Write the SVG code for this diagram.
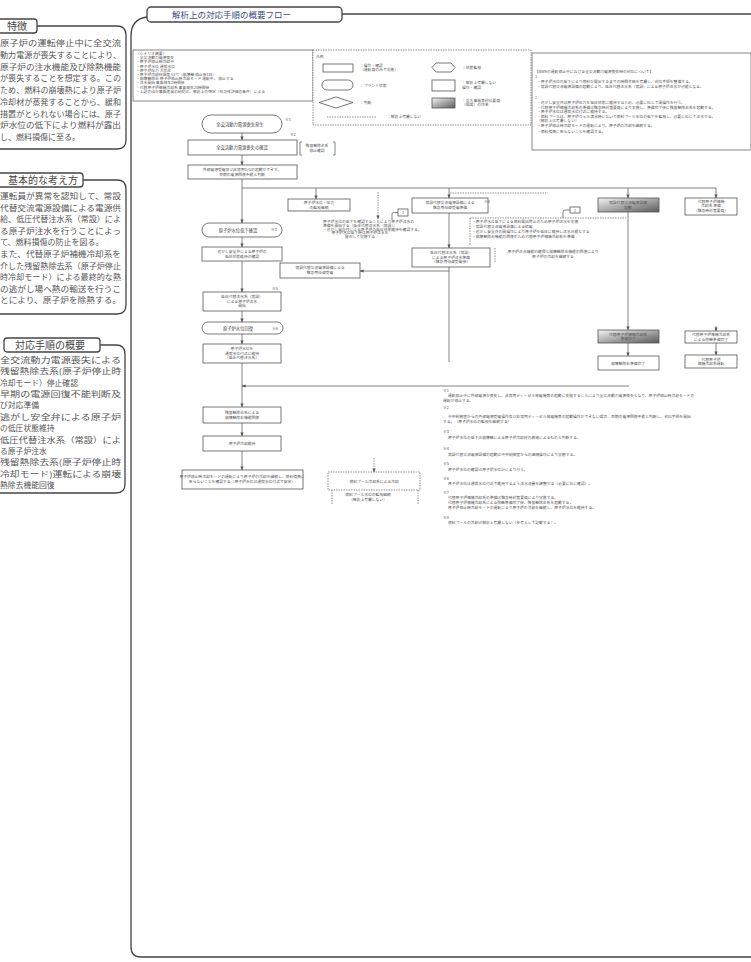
<svg xmlns="http://www.w3.org/2000/svg" width="751" height="962" viewBox="0 0 751 962">
<defs>
<style>
.f{font-family:"Noto Sans CJK JP","Noto Sans",sans-serif}
.bt{font-size:8px;fill:#555}
.bt2{font-size:7.8px;fill:#555}
.tt{font-size:10px;fill:#444}
.s{font-size:4.3px;fill:#444}
.xs{font-size:3.8px;fill:#555}
.c{text-anchor:middle}
.box{fill:#fff;stroke:#555;stroke-width:0.8}
.gbox{fill:url(#g);stroke:#555;stroke-width:0.8}
.dbox{fill:#fff;stroke:#666;stroke-width:0.7;stroke-dasharray:1.5 1}
.frame{fill:none;stroke:#444;stroke-width:1.3}
.tab{fill:#fff;stroke:#444;stroke-width:1.3}
.ln{fill:none;stroke:#666;stroke-width:0.8}
.dl{fill:none;stroke:#666;stroke-width:0.7;stroke-dasharray:1.5 1}
</style>
<linearGradient id="g" x1="0" y1="0" x2="1" y2="1">
<stop offset="0" stop-color="#f4f4f4"/><stop offset="1" stop-color="#5a5a5a"/>
</linearGradient>
<marker id="a" markerWidth="4" markerHeight="4" refX="3.6" refY="2" orient="auto" markerUnits="userSpaceOnUse"><path d="M0,0.4 L4,2 L0,3.6 z" fill="#555"/></marker>
</defs>
<rect width="751" height="962" fill="#fff"/>

<!-- Left column: 特徴 -->
<g id="panel-feature" class="f">
<path class="frame" d="M37,26 L117,26 Q126,26 126,35 L126,140 Q126,149 117,149 L-5,149"/>
<rect class="tab" x="-6" y="19" width="43" height="14" rx="3"/>
<text class="tt c" x="17" y="29.5">特徴</text>
<text class="bt" x="0" y="46" textLength="121" lengthAdjust="spacingAndGlyphs">原子炉の運転停止中に全交流</text>
<text class="bt" x="0" y="57.8" textLength="121" lengthAdjust="spacingAndGlyphs">動力電源が喪失することにより、</text>
<text class="bt" x="0" y="69.5" textLength="121" lengthAdjust="spacingAndGlyphs">原子炉の注水機能及び除熱機能</text>
<text class="bt" x="0" y="81.3" textLength="121" lengthAdjust="spacingAndGlyphs">が喪失することを想定する。この</text>
<text class="bt" x="0" y="93" textLength="121" lengthAdjust="spacingAndGlyphs">ため、燃料の崩壊熱により原子炉</text>
<text class="bt" x="0" y="104.8" textLength="121" lengthAdjust="spacingAndGlyphs">冷却材が蒸発することから、緩和</text>
<text class="bt" x="0" y="116.5" textLength="121" lengthAdjust="spacingAndGlyphs">措置がとられない場合には、原子</text>
<text class="bt" x="0" y="128.3" textLength="121" lengthAdjust="spacingAndGlyphs">炉水位の低下により燃料が露出</text>
<text class="bt" x="0" y="140">し、燃料損傷に至る。</text>
</g>

<!-- Left column: 基本的な考え方 -->
<g id="panel-concept" class="f">
<path class="frame" d="M83,180 L117,180 Q126,180 126,189 L126,305 Q126,314 117,314 L-5,314"/>
<rect class="tab" x="-6" y="173" width="89" height="14" rx="3"/>
<text class="tt c" x="43" y="183.5">基本的な考え方</text>
<text class="bt" x="0" y="199" textLength="121" lengthAdjust="spacingAndGlyphs">運転員が異常を認知して、常設</text>
<text class="bt" x="0" y="210.6" textLength="121" lengthAdjust="spacingAndGlyphs">代替交流電源設備による電源供</text>
<text class="bt" x="0" y="222.2" textLength="121" lengthAdjust="spacingAndGlyphs">給、低圧代替注水系（常設）によ</text>
<text class="bt" x="0" y="233.8" textLength="121" lengthAdjust="spacingAndGlyphs">る原子炉注水を行うことによっ</text>
<text class="bt" x="0" y="245.4">て、燃料損傷の防止を図る。</text>
<text class="bt" x="0" y="257" textLength="121" lengthAdjust="spacingAndGlyphs">また、代替原子炉補機冷却系を</text>
<text class="bt" x="0" y="268.6" textLength="121" lengthAdjust="spacingAndGlyphs">介した残留熱除去系（原子炉停止</text>
<text class="bt" x="0" y="280.2" textLength="121" lengthAdjust="spacingAndGlyphs">時冷却モード）による最終的な熱</text>
<text class="bt" x="0" y="291.8" textLength="121" lengthAdjust="spacingAndGlyphs">の逃がし場へ熱の輸送を行うこ</text>
<text class="bt" x="0" y="303.4" textLength="121" lengthAdjust="spacingAndGlyphs">とにより、原子炉を除熱する。</text>
</g>

<!-- Left column: 対応手順の概要 -->
<g id="panel-procedure" class="f">
<path class="frame" d="M100,345 L116,345 Q125,345 125,354 L125,484 Q125,493 116,493 L-5,493"/>
<rect class="tab" x="4" y="338" width="96" height="14" rx="3"/>
<text class="tt c" x="50" y="348.5">対応手順の概要</text>
<text class="bt2" x="0" y="363" textLength="121" lengthAdjust="spacingAndGlyphs">全交流動力電源喪失による</text>
<text class="bt2" x="0" y="374.4" textLength="121" lengthAdjust="spacingAndGlyphs">残留熱除去系(原子炉停止時</text>
<text class="bt2" x="0" y="385.7">冷却モード）停止確認</text>
<text class="bt2" x="0" y="397.1" textLength="121" lengthAdjust="spacingAndGlyphs">早期の電源回復不能判断及</text>
<text class="bt2" x="0" y="408.4">び対応準備</text>
<text class="bt2" x="0" y="419.8" textLength="121" lengthAdjust="spacingAndGlyphs">逃がし安全弁による原子炉</text>
<text class="bt2" x="0" y="431.2">の低圧状態維持</text>
<text class="bt2" x="0" y="442.5" textLength="121" lengthAdjust="spacingAndGlyphs">低圧代替注水系（常設）によ</text>
<text class="bt2" x="0" y="453.9">る原子炉注水</text>
<text class="bt2" x="0" y="465.3" textLength="121" lengthAdjust="spacingAndGlyphs">残留熱除去系(原子炉停止時</text>
<text class="bt2" x="0" y="476.6" textLength="121" lengthAdjust="spacingAndGlyphs">冷却モード)運転による崩壊</text>
<text class="bt2" x="0" y="488">熱除去機能回復</text>
</g>

<!-- Main frame -->
<g id="main-frame" class="f">
<path class="frame" d="M342,14 L751,14"/>
<path class="frame" d="M147,17 Q131,19 131,36 L131,947 Q131,957 141,957 L751,957"/>
<rect class="tab" x="147" y="7" width="195" height="15" rx="4"/>
<text x="172" y="18" style="font-size:8.5px;fill:#3a4a80">解析上の対応手順の概要フロー</text>
</g>

<!-- Top-left conditions box -->
<g id="conditions" class="f">
<rect x="133" y="50" width="180" height="51" fill="#fff" stroke="#666" stroke-width="0.8"/>
<text class="xs" x="136" y="55">〈シナリオ概要〉</text>
<text class="xs" x="136" y="59.2">・全交流動力電源喪失</text>
<text class="xs" x="136" y="63.4">・原子炉停止時冷却中</text>
<text class="xs" x="136" y="67.6">・原子炉水位 通常水位</text>
<text class="xs" x="136" y="71.8">・原子炉圧力 大気圧</text>
<text class="xs" x="136" y="76">・原子炉冷却材温度 52℃（崩壊熱 停止後1日）</text>
<text class="xs" x="136" y="80.2">・崩壊熱除去 原子炉停止時冷却モード 運転中、 停止する</text>
<text class="xs" x="136" y="84.4">・注水開始 事象発生2時間後</text>
<text class="xs" x="136" y="88.6">・代替原子炉補機冷却系 事象発生20時間後</text>
<text class="xs" x="136" y="92.8">・上記のほか事象進展の前提は、解析上の想定（有効性評価の条件）による</text>
</g>

<!-- Legend -->
<g id="legend" class="f">
<rect class="dbox" x="313" y="50" width="218" height="75"/>
<text class="xs" x="316" y="58">凡例</text>
<rect class="box" x="323" y="64" width="30" height="8"/>
<text class="xs" x="360" y="66.5">：操作・確認</text>
<text class="xs" x="360" y="71">（運転員のみで実施）</text>
<rect class="box" x="322" y="80" width="31" height="10" rx="5"/>
<text class="xs" x="360" y="86.5">：プラント状態</text>
<path class="box" d="M319,102.5 L336,97 L353,102.5 L336,108 z"/>
<text class="xs" x="360" y="104">：判断</text>
<path class="box" d="M432,67.5 L436,63 L451,63 L455,67.5 L451,72 L436,72 z"/>
<text class="xs" x="462" y="69">：状態監視</text>
<rect class="box" x="432" y="80" width="23" height="11"/>
<text class="xs" x="462" y="84">：解析上考慮しない</text>
<text class="xs" x="462" y="88.5">操作・確認</text>
<rect class="gbox" x="432" y="98" width="23" height="10"/>
<text class="xs" x="462" y="101.5">：重大事故等対応要員</text>
<text class="xs" x="462" y="106">（現場）の作業</text>
<path class="dl" d="M327,117 L377,117"/>
<text class="xs" x="387" y="118.3">：解析上考慮しない</text>
</g>

<!-- Top-right remarks box -->
<g id="remarks" class="f">
<rect x="532" y="53" width="219" height="97" fill="#fff" stroke="#888" stroke-width="1"/>
<text class="xs" x="535" y="73.3">【BWRの運転停止中における全交流動力電源喪失時の対応について】</text>
<text class="xs" x="535" y="78.3">1</text>
<text class="xs" x="537" y="83.3">・原子炉水位の低下により燃料が露出するまでの時間余裕を考慮し、対応手順を整備する。</text>
<text class="xs" x="537" y="88.3">・常設代替交流電源設備の起動により、低圧代替注水系（常設）による原子炉注水が可能となる。</text>
<text class="xs" x="535" y="99.3">2</text>
<text class="xs" x="537" y="104.3">・逃がし安全弁は原子炉圧力を低圧状態に維持するため、必要に応じて開操作を行う。</text>
<text class="xs" x="537" y="108.8">・代替原子炉補機冷却系の準備は緊急時対策要員により実施し、準備完了後に残留熱除去系を起動する。</text>
<text class="xs" x="537" y="113.3">・原子炉水位は通常水位付近に維持する。</text>
<text class="xs" x="537" y="117.8">・燃料プールは、原子炉ウェル満水時において燃料プール水位の低下を監視し、必要に応じて注水する。</text>
<text class="xs" x="537" y="122.3">（解析上は考慮しない）</text>
<text class="xs" x="537" y="126.8">・原子炉停止時冷却モードの運転により、原子炉の冷却を継続する。</text>
<text class="xs" x="537" y="133.3">・燃料損傷に至らないことを確認する。</text>
</g>

<!-- Connectors -->
<g id="connectors" fill="none">
<path class="ln" d="M242,133 L242,140" marker-end="url(#a)"/>
<path class="ln" d="M242,155 L242,165" marker-end="url(#a)"/>
<path class="ln" d="M242,179 L242,223" marker-end="url(#a)"/>
<path class="ln" d="M242,188 L716,188"/>
<path class="ln" d="M316,188 L316,199" marker-end="url(#a)"/>
<path class="ln" d="M449,188 L449,198" marker-end="url(#a)"/>
<path class="ln" d="M628,188 L628,198" marker-end="url(#a)"/>
<path class="ln" d="M716,188 L716,198" marker-end="url(#a)"/>
<path class="dl" d="M378,192 L378,219" marker-end="url(#a)"/>
<path class="dl" d="M450,193 L548,193"/>
<path class="ln" d="M242,237 L242,247" marker-end="url(#a)"/>
<path class="ln" d="M242,261 L242,292" marker-end="url(#a)"/>
<path class="ln" d="M449,213 L449,248" marker-end="url(#a)"/>
<path class="ln" d="M449,267 L449,362"/>
<path class="ln" d="M449,271 L360,271" marker-end="url(#a)"/>
<path class="ln" d="M242,311 L242,322" marker-end="url(#a)"/>
<path class="ln" d="M242,334 L242,344" marker-end="url(#a)"/>
<path class="ln" d="M242,363 L242,407" marker-end="url(#a)"/>
<path class="ln" d="M629,386 L242,386" marker-end="url(#a)"/>
<path class="ln" d="M628,212 L628,330" marker-end="url(#a)"/>
<path class="ln" d="M628,343 L628,356" marker-end="url(#a)"/>
<path class="ln" d="M716,326 L716,331" marker-end="url(#a)"/>
<path class="ln" d="M716,343 L716,355" marker-end="url(#a)"/>
<path class="ln" d="M242,423 L242,436" marker-end="url(#a)"/>
<path class="ln" d="M242,451 L242,470" marker-end="url(#a)"/>
<path class="dl" d="M374,458 L374,472" marker-end="url(#a)"/>
<path class="ln" d="M392,220 L392,214 Q392,212.5 394,212.5 L398,212.5"/>
<path class="ln" d="M563,218 L563,212 Q563,210 565,210 L570,210"/>
</g>

<!-- Nodes -->
<g id="n1" class="f"><rect class="box" x="202" y="115" width="80" height="18" rx="9"/><text class="s c" x="240" y="125.5">全交流動力電源喪失発生</text><text class="xs" x="285" y="121">※1</text></g>
<g id="n2" class="f"><rect class="box" x="188" y="140" width="109" height="15"/><text class="s c" x="242" y="149">全交流動力電源喪失の確認</text><text class="xs" x="290" y="136">※2</text></g>
<g id="n2-note" class="f"><path class="ln" d="M302,142 L300,142 L300,155 L302,155 M333,142 L335,142 L335,155 L333,155"/><text class="xs c" x="317" y="146.5">残留熱除去系</text><text class="xs c" x="317" y="151.5">停止確認</text></g>
<g id="n3" class="f"><rect class="box" x="188" y="165" width="109" height="14"/><text class="xs c" x="242" y="171">外部電源受電及び非常用D/Gの起動ができず、</text><text class="xs c" x="242" y="176">早期の電源回復不能と判断</text></g>
<g id="b1" class="f"><rect class="box" x="288" y="199" width="62" height="12"/><text class="xs c" x="319" y="204">原子炉水位・圧力</text><text class="xs c" x="319" y="208.5">の監視継続</text></g>
<g id="note1a" class="f"><rect class="box" x="398" y="209" width="10" height="7"/><text class="xs c" x="403" y="214">1</text></g>
<g id="note-a" class="f">
<text class="xs" x="323" y="222.5">原子炉水位の低下を確認することにより原子炉注水の</text>
<text class="xs" x="323" y="226.5">準備を開始する（低圧代替注水系（常設））</text>
<text class="xs" x="323" y="230.5">・逃がし安全弁による原子炉の低圧状態維持を確認する。</text>
<text class="xs c" x="360" y="234">原子炉水位低下時は原子炉注水を</text>
<text class="xs c" x="360" y="238">優先して実施する</text>
</g>
<g id="n4" class="f"><rect class="box" x="202" y="223" width="80" height="14" rx="7"/><text class="s c" x="238" y="231.5">原子炉水位低下確認</text><text class="xs" x="271" y="231">※3</text></g>
<g id="n5" class="f"><rect class="box" x="202" y="247" width="80" height="14"/><text class="xs c" x="242" y="252.8">逃がし安全弁による原子炉の</text><text class="xs c" x="242" y="257.6">低圧状態維持の確認</text></g>
<g id="n6" class="f"><rect class="box" x="280" y="263" width="80" height="15"/><text class="xs c" x="320" y="269">常設代替交流電源設備による</text><text class="xs c" x="320" y="274">緊急用母線受電</text></g>
<g id="n7" class="f"><rect class="box" x="203" y="292" width="78" height="19"/><text class="xs c" x="242" y="298">低圧代替注水系（常設）</text><text class="xs c" x="242" y="302.5">による原子炉注水</text><text class="xs c" x="242" y="307">開始</text><text class="xs" x="272" y="290">※5</text></g>
<g id="n8" class="f"><rect class="box" x="202" y="322" width="81" height="12" rx="6"/><text class="s c" x="238" y="329.5">原子炉水位回復</text><text class="xs" x="272" y="329.5">※6</text></g>
<g id="n9" class="f"><rect class="box" x="203" y="344" width="78" height="19"/><text class="xs c" x="242" y="350">原子炉水位を</text><text class="xs c" x="242" y="354.5">通常水位付近に維持</text><text class="xs c" x="242" y="359">（低圧代替注水系）</text></g>
<g id="n10" class="f"><rect class="box" x="203" y="407" width="78" height="16"/><text class="xs c" x="242" y="413.5">残留熱除去系による</text><text class="xs c" x="242" y="418.5">崩壊熱除去機能回復</text></g>
<g id="n11" class="f"><rect class="box" x="203" y="436" width="78" height="15"/><text class="xs c" x="242" y="445">原子炉冷却維持</text></g>
<g id="n12" class="f"><rect class="box" x="182" y="470" width="121" height="19"/><text class="xs c" x="242" y="477.5">原子炉停止時冷却モードの運転により原子炉の冷却を継続し、燃料損傷に</text><text class="xs c" x="242" y="482.5">至らないことを確認する（原子炉水位は通常水位付近で安定）</text></g>
<g id="n13" class="f"><rect class="dbox" x="328" y="472" width="92" height="18"/><text class="xs c" x="374" y="482.5">燃料プール冷却系による冷却</text>
<path class="dl" d="M332,490 L332,505 M418,490 L418,505"/><text class="xs c" x="368" y="496">燃料プール水位の監視継続</text><text class="xs c" x="368" y="500.5">（解析上考慮しない）</text></g>

<g id="r1" class="f"><rect class="box" x="412" y="198" width="76" height="15"/><text class="xs c" x="450" y="204">常設代替交流電源設備による</text><text class="xs c" x="450" y="209">緊急用母線受電準備</text><text class="xs" x="484" y="203">※4</text></g>
<g id="note1b" class="f"><rect class="box" x="570" y="207" width="10" height="6"/><text class="xs c" x="575" y="211.5">1</text></g>
<g id="note-b" class="f">
<path class="dl" d="M470,218 L626,218 M470,218 L470,245"/>
<text class="xs" x="472" y="223.3">・原子炉水位低下による燃料露出防止のため原子炉注水を実施</text>
<text class="xs" x="472" y="228.3">・常設代替交流電源設備による給電</text>
<text class="xs" x="472" y="233.3">・逃がし安全弁の開操作により原子炉を低圧に維持し注水可能とする</text>
<text class="xs" x="472" y="238.3">・崩壊熱除去機能の回復のため代替原子炉補機冷却系を準備</text>
<path class="dl" d="M495,248 L495,263"/>
<text class="xs c" x="553" y="253">原子炉注水機能の確保と崩壊熱除去機能の回復により</text>
<text class="xs c" x="553" y="257.5">原子炉の冷却を継続する</text>
</g>
<g id="r2" class="f"><rect class="box" x="412" y="248" width="78" height="19"/><text class="xs c" x="451" y="254">低圧代替注水系（常設）</text><text class="xs c" x="451" y="258.5">による原子炉注水準備</text><text class="xs c" x="451" y="263">（緊急用母線受電後）</text></g>
<g id="g1" class="f"><rect class="gbox" x="598" y="198" width="61" height="14"/><text class="xs c" x="628" y="203.8">常設代替交流電源設備</text><text class="xs c" x="628" y="208.6">起動</text></g>
<g id="g2" class="f"><rect class="gbox" x="598" y="330" width="61" height="13"/><text class="xs c" x="628" y="335.5">代替原子炉補機冷却系</text><text class="xs c" x="628" y="340">準備完了</text></g>
<g id="r3" class="f"><rect class="box" x="598" y="356" width="61" height="14"/><text class="xs c" x="628" y="364.5">崩壊熱除去準備完了</text></g>
<g id="rr1" class="f"><rect class="box" x="685" y="198" width="52" height="17"/><text class="xs c" x="711" y="202.8">代替原子炉補機</text><text class="xs c" x="711" y="207.3">冷却系 準備</text><text class="xs c" x="711" y="211.8">（緊急時対策要員）</text></g>
<g id="rr2" class="f"><rect class="box" x="685" y="331" width="52" height="12"/><text class="xs c" x="711" y="336">代替原子炉補機冷却系</text><text class="xs c" x="711" y="340.5">による除熱準備完了</text></g>
<g id="rr3" class="f"><rect class="box" x="685" y="355" width="52" height="13"/><text class="xs c" x="711" y="360.5">代替原子炉</text><text class="xs c" x="711" y="365">補機冷却系運転</text></g>

<!-- Notes -->
<g id="notes" class="f">
<text class="xs" x="443" y="392">※1</text>
<text class="xs" x="448" y="397.3">運転停止中に外部電源が喪失し、非常用ディーゼル発電機等の起動に失敗することにより全交流動力電源喪失となり、原子炉停止時冷却モードの</text>
<text class="xs" x="443" y="402.3">運転が停止する。</text>
<text class="xs" x="443" y="409">※2</text>
<text class="xs" x="448" y="418.3">中央制御室からの外部電源受電操作及び非常用ディーゼル発電機等の起動操作ができない場合、早期の電源回復不能と判断し、対応手順を開始</text>
<text class="xs" x="443" y="423.3">する。（原子炉水位の監視を継続する）</text>
<text class="xs" x="443" y="433">※3</text>
<text class="xs" x="448" y="439">原子炉水位の低下は崩壊熱による原子炉冷却材の蒸発によるものと判断する。</text>
<text class="xs" x="443" y="450">※4</text>
<text class="xs" x="448" y="456">常設代替交流電源設備の起動は中央制御室からの遠隔操作により実施する。</text>
<text class="xs" x="443" y="465">※5</text>
<text class="xs" x="448" y="471">原子炉水位の確認は原子炉水位計により行う。</text>
<text class="xs" x="443" y="480">※6</text>
<text class="xs" x="448" y="485">原子炉水位は通常水位付近で維持するよう注水流量を調整する（必要に応じ確認）。</text>
<text class="xs" x="443" y="494">※7</text>
<text class="xs" x="448" y="499">代替原子炉補機冷却系の準備は緊急時対策要員により実施する。</text>
<text class="xs" x="448" y="504">代替原子炉補機冷却系による除熱準備完了後、残留熱除去系を起動する。</text>
<text class="xs" x="448" y="509">原子炉停止時冷却モードの運転により原子炉の冷却を継続し、原子炉水位を維持する。</text>
<text class="xs" x="443" y="519">※8</text>
<text class="xs" x="448" y="524">燃料プールの冷却は解析上考慮しない（参考として記載する）。</text>
</g>
</svg>
